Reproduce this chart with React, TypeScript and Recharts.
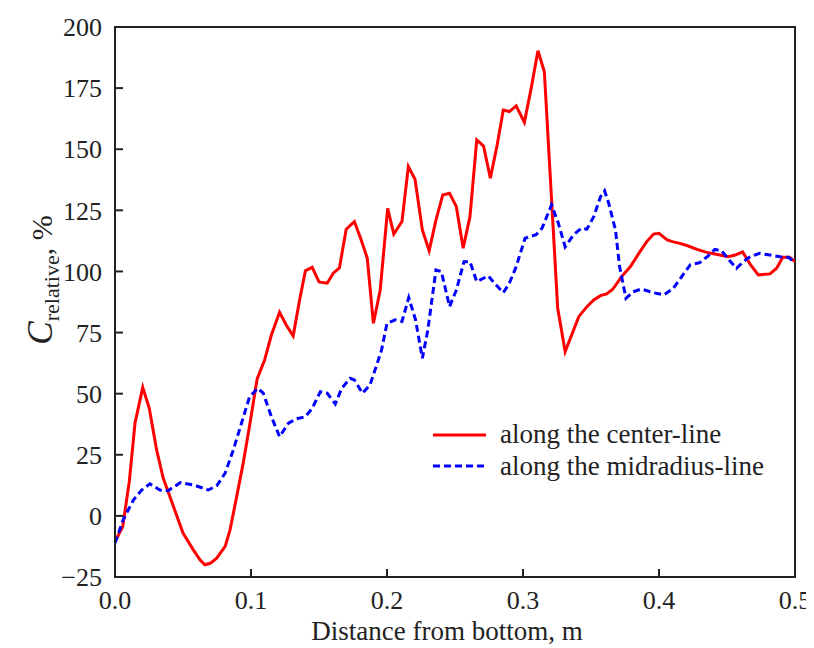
import React from 'react';
import { LineChart, Line, XAxis, YAxis, ReferenceArea, Legend } from 'recharts';

const centerX = [0, 0.0057, 0.0105, 0.0147, 0.0204, 0.0252, 0.0306, 0.0355, 0.043, 0.05, 0.0576, 0.0625, 0.066, 0.07, 0.0748, 0.081, 0.0846, 0.0895, 0.0944, 0.0993, 0.1045, 0.11, 0.115, 0.121, 0.126, 0.131, 0.1355, 0.14, 0.145, 0.15, 0.156, 0.1605, 0.165, 0.17, 0.176, 0.1806, 0.1855, 0.19, 0.195, 0.2005, 0.205, 0.211, 0.2157, 0.2206, 0.226, 0.231, 0.236, 0.241, 0.246, 0.251, 0.256, 0.261, 0.266, 0.271, 0.276, 0.281, 0.2855, 0.29, 0.295, 0.301, 0.306, 0.311, 0.3157, 0.3255, 0.331, 0.341, 0.347, 0.352, 0.357, 0.3615, 0.366, 0.3725, 0.379, 0.386, 0.391, 0.396, 0.4, 0.406, 0.4105, 0.4154, 0.4215, 0.428, 0.435, 0.442, 0.451, 0.456, 0.4615, 0.467, 0.473, 0.4816, 0.4865, 0.491, 0.496, 0.5];
const centerY = [-10.5, -4.4, 14, 37.9, 52.6, 44, 27, 15.4, 3.8, -7, -13.9, -18, -20, -19.4, -17.3, -12.5, -5.7, 8, 22, 38, 56, 63.8, 74, 83.3, 78, 73.6, 87.6, 100.3, 101.7, 95.7, 95.2, 99.3, 101.4, 117.3, 120.4, 113.6, 105.4, 78.8, 92.4, 125.8, 115.3, 120.4, 142.9, 137.7, 117, 108.5, 121, 131.3, 132, 126.5, 109.5, 122.4, 153.8, 151.3, 138.1, 151.7, 166, 165.4, 167.7, 161, 174.9, 190.3, 181.7, 85, 67.2, 81.5, 85.6, 88.3, 90.1, 90.8, 92.7, 97.9, 102, 108.1, 112.2, 115.3, 115.6, 112.9, 112.1, 111.5, 110.4, 109, 107.8, 107, 106, 106.7, 108, 103, 98.6, 99, 101.3, 105.8, 105.8, 104];

const midX = [0, 0.006, 0.0135, 0.0196, 0.0257, 0.033, 0.039, 0.048, 0.0576, 0.0686, 0.0748, 0.081, 0.087, 0.093, 0.099, 0.105, 0.109, 0.115, 0.121, 0.1275, 0.1336, 0.14, 0.145, 0.151, 0.156, 0.162, 0.1667, 0.173, 0.176, 0.182, 0.1875, 0.192, 0.196, 0.2, 0.206, 0.211, 0.216, 0.221, 0.226, 0.23, 0.236, 0.24, 0.246, 0.251, 0.2566, 0.261, 0.266, 0.2745, 0.279, 0.2855, 0.29, 0.295, 0.3015, 0.3096, 0.314, 0.321, 0.326, 0.331, 0.337, 0.343, 0.347, 0.352, 0.357, 0.36, 0.363, 0.368, 0.371, 0.3757, 0.381, 0.387, 0.396, 0.4037, 0.4105, 0.4167, 0.423, 0.43, 0.436, 0.441, 0.446, 0.451, 0.457, 0.462, 0.467, 0.474, 0.4816, 0.489, 0.495, 0.5];
const midY = [-11.2, -1.6, 6.5, 10.6, 13.1, 10.6, 10.3, 13.6, 12.7, 10.6, 12.3, 17.5, 27, 37.9, 48.8, 52.2, 50.2, 40.6, 32.4, 37.9, 39.7, 40.6, 44, 50.8, 50.2, 45.8, 52.2, 56.3, 55.6, 50.2, 53.6, 61, 67.9, 78.8, 80.2, 79.5, 89.3, 80.2, 64.5, 76, 100.6, 99.9, 85.6, 92.4, 104, 104, 95.8, 98.2, 95.2, 91.3, 95.2, 102, 113.6, 115, 117.7, 127.2, 119.7, 110.1, 114.9, 117.7, 117.3, 122.4, 130.6, 133, 127.9, 117, 102, 89, 91.7, 92.8, 91.3, 90.4, 93.1, 97.9, 102.7, 103.6, 106.3, 109, 108.5, 105, 101.3, 104, 106, 107.4, 106.7, 106, 105.8, 103.6];

const xTicks = [0, 0.1, 0.2, 0.3, 0.4, 0.5];
const yTicks = [-25, 0, 25, 50, 75, 100, 125, 150, 175, 200];

const centerData = centerX.map((x, i) => ({ x, y: centerY[i] }));
const midData = midX.map((x, i) => ({ x, y: midY[i] }));

const FONT = '"Liberation Serif", "Times New Roman", serif';
const INK = '#222';

const renderLegend = (props: any) => {
  const { payload } = props;
  return (
    <div style={{ fontFamily: FONT, fontSize: 27, color: INK }}>
      {(payload || []).map((entry: any, i: number) => (
        <div key={i} style={{ display: 'flex', alignItems: 'center', height: 31.5 }}>
          <svg width={53} height={10} style={{ display: 'block' }}>
            <line
              x1={0}
              y1={5}
              x2={53}
              y2={5}
              stroke={entry.color}
              strokeWidth={3}
              strokeDasharray={entry.payload && entry.payload.strokeDasharray}
            />
          </svg>
          <span style={{ marginLeft: 14, lineHeight: '27px', whiteSpace: 'nowrap' }}>{entry.value}</span>
        </div>
      ))}
    </div>
  );
};

const YLabel = () => (
  <text
    x={44}
    y={272}
    transform="rotate(-90 44 272)"
    textAnchor="middle"
    fill={INK}
    fontFamily={FONT}
  >
    <tspan fontStyle="italic" fontSize={35}>C</tspan>
    <tspan fontSize={22} dy={7}>relative</tspan>
    <tspan fontSize={30} dy={-7}>, %</tspan>
  </text>
);

const XLabel = (props: any) => {
  const vb = props.viewBox || { x: 107, y: 569, width: 680 };
  return (
    <text
      x={vb.x + vb.width / 2 - 8}
      y={vb.y + 63}
      textAnchor="middle"
      fill={INK}
      fontFamily={FONT}
      fontSize={27}
    >
      Distance from bottom, m
    </text>
  );
};

export default function App() {
  return (
    <div style={{ width: 806, height: 640, position: 'relative' }}>
      <LineChart width={806} height={640} margin={{ top: 19, right: 19, bottom: 0, left: 0 }}>
        <XAxis
          type="number"
          dataKey="x"
          domain={[0, 0.5]}
          ticks={xTicks}
          interval={0}
          allowDataOverflow
          height={71}
          tickSize={-8}
          tickMargin={22}
          tickFormatter={(v: number) => v.toFixed(1)}
          tick={{ fill: INK, fontSize: 26, fontFamily: FONT }}
          axisLine={{ stroke: INK, strokeWidth: 2 }}
          tickLine={{ stroke: INK, strokeWidth: 2 }}
          label={<XLabel />}
        />
        <YAxis
          type="number"
          dataKey="y"
          domain={[-25, 200]}
          ticks={yTicks}
          interval={0}
          allowDataOverflow
          width={107}
          tickSize={-8}
          tickMargin={21}
          tickFormatter={(v: number) => String(v).replace('-', '\u2212')}
          tick={{ fill: INK, fontSize: 26, fontFamily: FONT }}
          axisLine={{ stroke: INK, strokeWidth: 2 }}
          tickLine={{ stroke: INK, strokeWidth: 2 }}
          label={<YLabel />}
        />
        <ReferenceArea x1={0} x2={0.5} y1={-25} y2={200} fill="none" stroke={INK} strokeWidth={2} ifOverflow="visible" />
        <Line
          data={centerData}
          dataKey="y"
          name="along the center-line"
          type="linear"
          stroke="#ff0000"
          strokeWidth={3}
          dot={false}
          activeDot={false}
          isAnimationActive={false}
        />
        <Line
          data={midData}
          dataKey="y"
          name="along the midradius-line"
          type="linear"
          stroke="#0000ff"
          strokeWidth={3}
          strokeDasharray="7 4"
          dot={false}
          activeDot={false}
          isAnimationActive={false}
        />
        <Legend
          layout="vertical"
          align="center"
          verticalAlign="middle"
          content={renderLegend}
          wrapperStyle={{ position: 'absolute', left: 425, top: 411, width: 'auto' }}
        />
      </LineChart>
    </div>
  );
}
